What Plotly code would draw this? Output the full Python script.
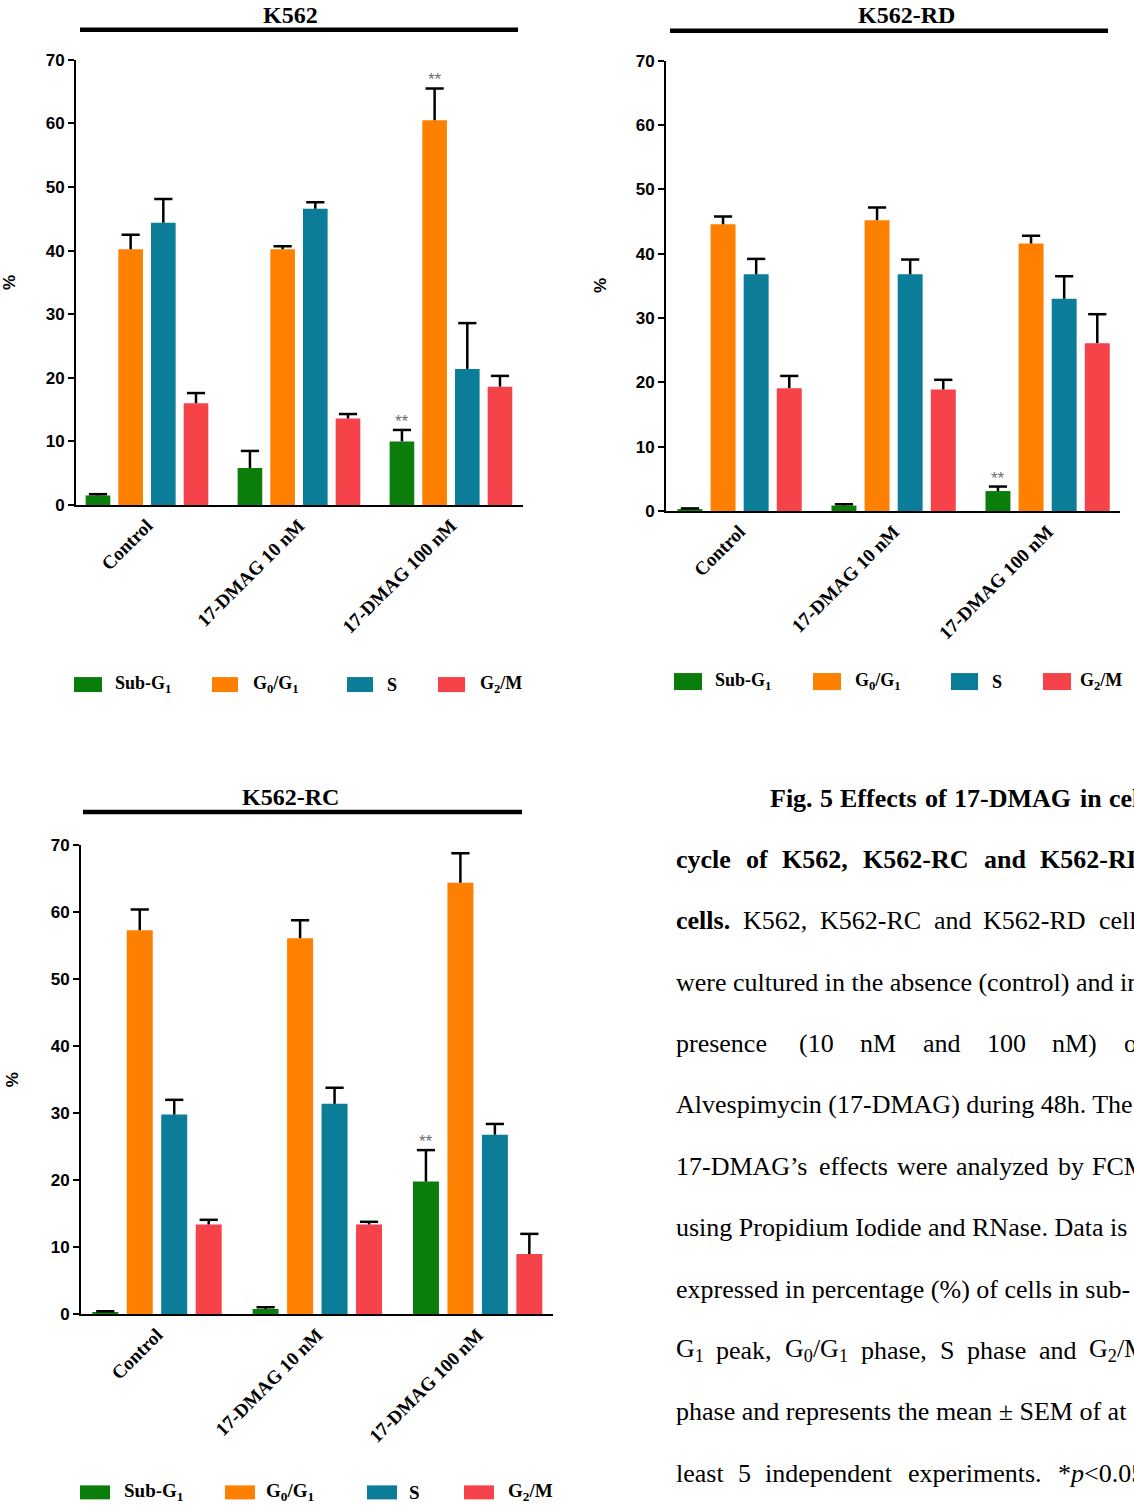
import plotly.graph_objects as go

W, H = 1134, 1506

# ---------------- data ----------------
groups = ["Control", "17-DMAG 10 nM", "17-DMAG 100 nM"]
phases = ["Sub-G<sub>1</sub>", "G<sub>0</sub>/G<sub>1</sub>", "S", "G<sub>2</sub>/M"]

k562_sub = [1.5, 5.8, 10.0]
k562_g0g1 = [40.2, 40.2, 60.5]
k562_s = [44.4, 46.6, 21.4]
k562_g2m = [16.0, 13.6, 18.6]
k562_sub_err = [0.2, 2.7, 1.8]
k562_g0g1_err = [2.3, 0.5, 5.0]
k562_s_err = [3.7, 1.0, 7.2]
k562_g2m_err = [1.6, 0.7, 1.7]

rd_sub = [0.3, 0.85, 3.1]
rd_g0g1 = [44.6, 45.2, 41.6]
rd_s = [36.8, 36.8, 33.0]
rd_g2m = [19.1, 18.9, 26.1]
rd_sub_err = [0.1, 0.2, 0.7]
rd_g0g1_err = [1.2, 2.0, 1.2]
rd_s_err = [2.4, 2.3, 3.5]
rd_g2m_err = [1.9, 1.5, 4.5]

rc_sub = [0.35, 0.8, 19.8]
rc_g0g1 = [57.3, 56.1, 64.4]
rc_s = [29.8, 31.4, 26.8]
rc_g2m = [13.4, 13.4, 9.0]
rc_sub_err = [0.1, 0.25, 4.7]
rc_g0g1_err = [3.1, 2.7, 4.4]
rc_s_err = [2.2, 2.4, 1.6]
rc_g2m_err = [0.7, 0.4, 3.0]

# significance marks: (group index, phase index)
k562_sig = [(2, 0), (2, 1)]
rd_sig = [(2, 0)]
rc_sig = [(2, 0)]

y_ticks = [0, 10, 20, 30, 40, 50, 60, 70]

# ---------------- styles ----------------
colors = ["#0b7d0b", "#ff8000", "#0b7d98", "#f6434a"]
SERIF = "Liberation Serif"
SANS = "Liberation Sans"
CAP_FS = 26

def px_x(p):
    return p / W

def px_y(p):
    q = (p - 9.2) / 0.987
    return 1 - q / H

panels = [
    dict(name="K562", ax="", vals=[k562_sub, k562_g0g1, k562_s, k562_g2m],
         errs=[k562_sub_err, k562_g0g1_err, k562_s_err, k562_g2m_err], sig=k562_sig,
         xd=(76, 523), yd=(60, 505), xr=(-0.467, 2.474),
         title_x=290, title_y=15, bar=(80, 518, 30), pct=(10, 283),
         sw=[(74, 102), (212, 238), (347, 373), (438, 465)], tx=[113, 251, 385, 478],
         ly=(677, 692), lfs=18),
    dict(name="K562-RD", ax="2", vals=[rd_sub, rd_g0g1, rd_s, rd_g2m],
         errs=[rd_sub_err, rd_g0g1_err, rd_s_err, rd_g2m_err], sig=rd_sig,
         xd=(666, 1120), yd=(61, 511), xr=(-0.478, 2.47),
         title_x=906, title_y=15, bar=(670, 1108, 31), pct=(601, 286),
         sw=[(674, 702), (813, 841), (951, 978), (1043, 1071)], tx=[713, 853, 990, 1078],
         ly=(673, 690), lfs=18),
    dict(name="K562-RC", ax="3", vals=[rc_sub, rc_g0g1, rc_s, rc_g2m],
         errs=[rc_sub_err, rc_g0g1_err, rc_s_err, rc_g2m_err], sig=rc_sig,
         xd=(81, 553), yd=(845, 1314), xr=(-0.474, 2.47),
         title_x=290, title_y=797, bar=(83, 522, 812), pct=(12, 1080),
         sw=[(80, 110), (225, 255), (367, 397), (464, 494)], tx=[122, 264, 407, 506],
         ly=(1485, 1499), lfs=19),
]

SLOT = 0.215
BARW = 0.162

fig = go.Figure()
annotations = []
shapes = []

for P in panels:
    xa = "x" + P["ax"]
    ya = "y" + P["ax"]
    for k in range(4):
        off = (k - 1.5) * SLOT
        xs = [i + off for i in range(len(groups))]
        vals = P["vals"][k]
        errs = P["errs"][k]
        fig.add_trace(go.Bar(
            x=xs, y=vals, width=[BARW] * len(xs), xaxis=xa, yaxis=ya,
            marker=dict(color=colors[k], line=dict(width=0)),
            error_y=dict(type="data", symmetric=False, array=errs,
                         arrayminus=[0] * len(errs), width=0, thickness=2.5,
                         color="black"),
            showlegend=False, name=phases[k]))
        tops = [v + e for v, e in zip(vals, errs)]
        fig.add_trace(go.Scatter(
            x=xs, y=tops, xaxis=xa, yaxis=ya, mode="markers",
            marker=dict(symbol="line-ew", size=13, color="black",
                        line=dict(width=2.5, color="black")),
            showlegend=False, hoverinfo="skip"))
    for (g, k) in P["sig"]:
        top = P["vals"][k][g] + P["errs"][k][g]
        annotations.append(dict(
            x=g + (k - 1.5) * SLOT, y=top, xref=xa, yref=ya, text="**",
            showarrow=False, yanchor="bottom", yshift=-3,
            font=dict(family=SANS, size=17, color="#707070")))

    sfx = P["ax"]
    fig.layout["xaxis" + sfx] = dict(
        domain=[px_x(P["xd"][0]), px_x(P["xd"][1])], range=list(P["xr"]),
        anchor="y" + sfx, tickvals=list(range(len(groups))), ticktext=groups,
        tickangle=-45, ticks="", showline=True, linecolor="black", linewidth=2,
        showgrid=False, zeroline=False,
        tickfont=dict(family=SERIF, size=19, color="black", weight="bold"))
    fig.layout["yaxis" + sfx] = dict(
        domain=[px_y(P["yd"][1]), px_y(P["yd"][0])], range=[0, 70],
        anchor="x" + sfx, tickvals=y_ticks, ticks="outside", ticklen=6,
        tickwidth=2, tickcolor="black", showline=True, linecolor="black",
        linewidth=2, showgrid=False, zeroline=False,
        tickfont=dict(family=SANS, size=17, color="black", weight="bold"))

    # title + bar
    annotations.append(dict(
        x=px_x(P["title_x"]), y=px_y(P["title_y"]), xref="paper", yref="paper",
        text=P["name"], showarrow=False, xanchor="center", yanchor="middle",
        font=dict(family=SERIF, size=24, color="black", weight="bold")))
    b = P["bar"]
    shapes.append(dict(type="line", xref="paper", yref="paper",
                       x0=px_x(b[0]), x1=px_x(b[1]), y0=px_y(b[2]), y1=px_y(b[2]),
                       line=dict(color="black", width=4.5)))
    # y title
    annotations.append(dict(
        x=px_x(P["pct"][0]), y=px_y(P["pct"][1]), xref="paper", yref="paper",
        text="%", textangle=-90, showarrow=False, xanchor="center", yanchor="middle",
        font=dict(family=SANS, size=17, color="black", weight="bold")))
    # legend
    y0, y1 = P["ly"]
    for k in range(4):
        shapes.append(dict(type="rect", xref="paper", yref="paper",
                           x0=px_x(P["sw"][k][0]), x1=px_x(P["sw"][k][1]),
                           y0=px_y(y1), y1=px_y(y0), fillcolor=colors[k],
                           line=dict(width=0)))
        annotations.append(dict(
            x=px_x(P["tx"][k]), y=px_y((y0 + y1) / 2), xref="paper", yref="paper",
            text=phases[k], showarrow=False, xanchor="left", yanchor="middle",
            font=dict(family=SERIF, size=P["lfs"], color="black", weight="bold")))

# ---------------- caption (justified lines placed word by word) ----------------
cap_lines = [
    (798, True, [("Fig.", 768), ("5", 818), ("Effects", 838), ("of", 923),
                 ("17-DMAG", 952), ("in", 1078), ("cell", 1107)]),
    (859, True, [("cycle", 674), ("of", 744), ("K562,", 780), ("K562-RC", 861),
                 ("and", 982), ("K562-RD", 1038)]),
    (920, None, [("<b>cells.</b>", 674), ("K562,", 741), ("K562-RC", 818),
                 ("and", 932), ("K562-RD", 981), ("cells", 1097)]),
    (982, False, [("were cultured in the absence (control) and in the", 674)]),
    (1043, False, [("presence", 674), ("(10", 797), ("nM", 858), ("and", 921),
                   ("100", 985), ("nM)", 1050), ("of", 1122)]),
    (1104, False, [("Alvespimycin (17-DMAG) during 48h. The", 674)]),
    (1166, False, [("17-DMAG\u2019s", 674), ("effects", 817), ("were", 895),
                   ("analyzed", 954), ("by", 1056), ("FCM", 1090)]),
    (1227, False, [("using Propidium Iodide and RNase. Data is", 674)]),
    (1289, False, [("expressed in percentage (%) of cells in sub-", 674)]),
    (1350, False, [("G<sub>1</sub>", 674), ("peak,", 714),
                   ("G<sub>0</sub>/G<sub>1</sub>", 783), ("phase,", 859), ("S", 938),
                   ("phase", 965), ("and", 1037), ("G<sub>2</sub>/M", 1087)]),
    (1411, False, [("phase and represents the mean \u00b1 SEM of at", 674)]),
    (1473, False, [("least", 674), ("5", 736), ("independent", 763),
                   ("experiments.", 906), ("*<i>p</i>&lt;0.05", 1056)]),
]
for (ly, bold, words) in cap_lines:
    for (w, xw) in words:
        annotations.append(dict(
            x=px_x(xw), y=px_y(ly), xref="paper", yref="paper", text=w,
            showarrow=False, xanchor="left", yanchor="middle",
            font=dict(family=SERIF, size=CAP_FS, color="black",
                      weight="bold" if bold else "normal")))

fig.update_layout(
    width=W, height=H, margin=dict(l=0, r=0, t=0, b=0),
    paper_bgcolor="white", plot_bgcolor="white",
    barmode="overlay", showlegend=False,
    annotations=annotations, shapes=shapes)

pin_script = (
    "document.documentElement.style.margin='0';"
    "document.body.style.margin='0';document.body.style.padding='0';"
    "document.documentElement.style.overflow='hidden';"
    "var gd=document.getElementById('{plot_id}');"
    "gd.style.position='fixed';gd.style.left='0px';gd.style.top='0px';"
)

fig.write_html("out.html", post_script=pin_script,
               config={"displayModeBar": False})
